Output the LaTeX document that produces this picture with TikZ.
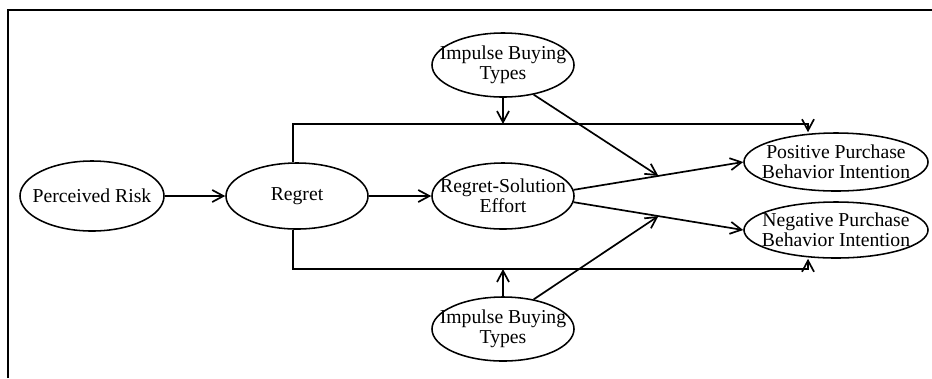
\documentclass[tikz,border=0pt]{standalone}
\usepackage{fontspec}
\setmainfont{Liberation Serif}
\usetikzlibrary{shapes.geometric,arrows.meta}

\tikzset{
  construct/.style={draw, ellipse, line width=1.1pt, inner sep=0pt,
    minimum width=#1, minimum height=1.65cm},
  caption/.style={align=center, inner sep=0pt,
    font=\fontsize{14}{14.5}\selectfont},
  link/.style={line width=1.2pt, -{Straight Barb[length=2.8mm,width=3mm]}},
}

\begin{document}
\begin{tikzpicture}[x=0.025cm, y=-0.025cm]
    \useasboundingbox (0,0) rectangle (932,378);
    % frame
    \draw[line width=1.3pt] (8,378) -- (8,10) -- (932,10);

    % constructs
    \node[construct=3.6cm, minimum height=1.75cm,
          label={[caption]center:Perceived Risk}] (risk) at (92,196) {};
    \node[construct=3.55cm, label={[caption]center:Regret}] (regret) at (297,196) {};
    \node[construct=3.55cm, label={[caption]center:{Regret-Solution\\Effort}}] (effort) at (503,196) {};
    \node[construct=3.55cm, minimum height=1.6cm,
          label={[caption]center:{Impulse Buying\\Types}}] (impulseA) at (503,65) {};
    \node[construct=3.55cm, minimum height=1.6cm,
          label={[caption]center:{Impulse Buying\\Types}}] (impulseB) at (503,329) {};
    \node[construct=4.6cm, minimum height=1.45cm,
          label={[caption]center:{Positive Purchase\\Behavior Intention}}] (positive) at (836,162) {};
    \node[construct=4.6cm, minimum height=1.4cm,
          label={[caption]center:{Negative Purchase\\Behavior Intention}}] (negative) at (836,230) {};

    % corners of the direct paths
    \coordinate (upL) at (293,124);
    \coordinate (upR) at (808,124);
    \coordinate (loL) at (293,269);
    \coordinate (loR) at (808,269);

    % main chain
    \draw[link] (risk) -- (regret);
    \draw[link] (regret) -- (effort);
    \draw[link] (effort.5) -- coordinate[pos=0.5] (midP) (positive.west);
    \draw[link] (effort.-5) -- coordinate[pos=0.5] (midN) (negative.west);

    % direct paths from regret
    \draw[link] (regret.north -| upL) -- (upL) -- (upR) -- (upR |- positive.north);
    \draw[link] (regret.south -| loL) -- (loL) -- (loR) -- (loR |- negative.south);

    % moderators
    \draw[link] (impulseA.south) -- (impulseA.south |- upL);
    \draw[link] (impulseA.-44) -- (midP);
    \draw[link] (impulseB.north) -- (impulseB.north |- loL);
    \draw[link] (impulseB.44) -- (midN);
\end{tikzpicture}
\end{document}
